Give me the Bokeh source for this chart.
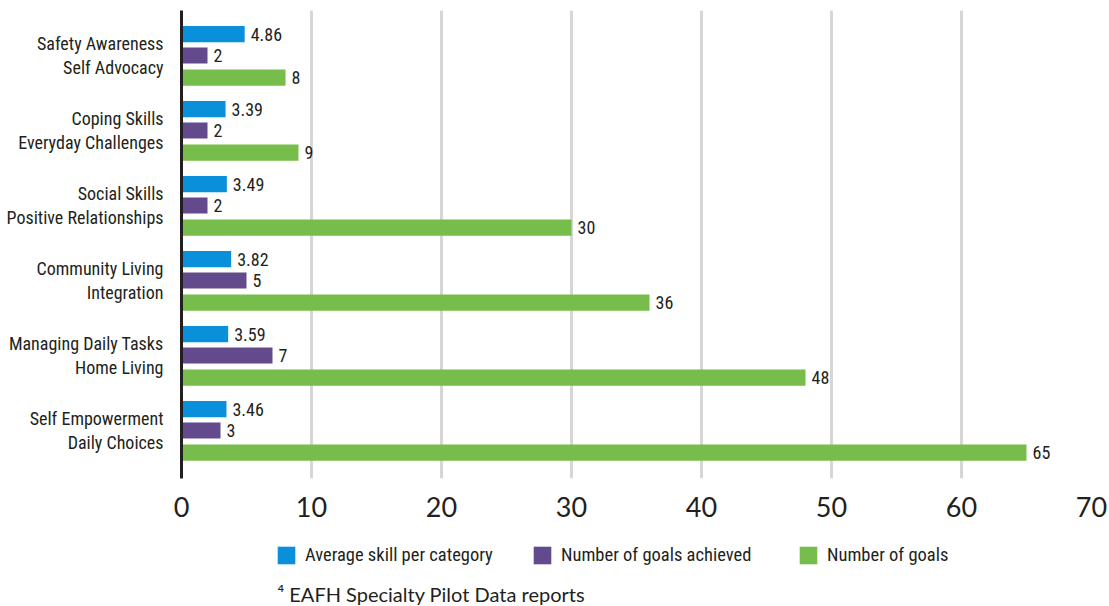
from bokeh.plotting import figure
from bokeh.layouts import column
from bokeh.models import (ColumnDataSource, Range1d, FixedTicker, Legend, LegendItem, Label)
from bokeh.core.properties import value
from bokeh.embed import file_html
from bokeh.resources import INLINE

categories = [
    "Safety Awareness\nSelf Advocacy",
    "Coping Skills\nEveryday Challenges",
    "Social Skills\nPositive Relationships",
    "Community Living\nIntegration",
    "Managing Daily Tasks\nHome Living",
    "Self Empowerment\nDaily Choices",
]
avg_skill = [4.86, 3.39, 3.49, 3.82, 3.59, 3.46]
goals_achieved = [2, 2, 2, 5, 7, 3]
num_goals = [8, 9, 30, 36, 48, 65]
x_ticks = [0, 10, 20, 30, 40, 50, 60, 70]

series = [
    ("Average skill per category", avg_skill, "#0A8FDB", -0.285, lambda v: f"{v:.2f}"),
    ("Number of goals achieved", goals_achieved, "#634A8D", 0.0, lambda v: f"{v}"),
    ("Number of goals", num_goals, "#77BD4B", 0.295, lambda v: f"{v}"),
]

TEXT = "#231F20"
COND = "Roboto Condensed"

p = figure(
    width=1109, height=530,
    x_range=Range1d(0, 70), y_range=Range1d(5.64, -0.6),
    output_backend="svg", toolbar_location=None,
    min_border_left=181, min_border_right=18, min_border_top=10, min_border_bottom=52,
)
p.outline_line_color = None

# vertical rules only
p.ygrid.grid_line_color = None
p.xgrid.grid_line_color = "#D6D6D6"
p.xgrid.grid_line_width = 3
p.xgrid.ticker = FixedTicker(ticks=x_ticks)

p.xaxis.ticker = FixedTicker(ticks=x_ticks)
p.xaxis.axis_line_color = None
p.xaxis.major_tick_line_color = None
p.xaxis.minor_tick_line_color = None
p.xaxis.major_label_text_font = "Lato"
p.xaxis.major_label_text_font_size = "27px"
p.xaxis.major_label_text_color = TEXT
p.xaxis.major_label_standoff = 12

# category names, two lines each
p.yaxis.ticker = FixedTicker(ticks=list(range(len(categories))))
p.yaxis.major_label_overrides = {i: c for i, c in enumerate(categories)}
p.yaxis.axis_line_color = TEXT
p.yaxis.axis_line_width = 3
p.yaxis.major_tick_line_color = None
p.yaxis.minor_tick_line_color = None
p.yaxis.major_label_text_font = COND
p.yaxis.major_label_text_font_size = "18px"
p.yaxis.major_label_text_color = TEXT
p.yaxis.major_label_text_line_height = 1.1
p.yaxis.major_label_standoff = 12

bar_h = 0.215
for name, vals, color, off, fmt in series:
    src = ColumnDataSource(dict(
        y=[i + off for i in range(len(vals))],
        right=vals,
        label=[fmt(v) for v in vals],
    ))
    p.hbar(y="y", left=0, right="right", height=bar_h, source=src,
           fill_color=color, line_color=None)
    p.text(x="right", y="y", text="label", source=src, x_offset=6,
           text_baseline="middle", text_align="left",
           text_font=value(COND), text_font_size="18px", text_color=TEXT)

# strip under the chart holding the key and the source note
foot = figure(
    width=1109, height=76,
    x_range=Range1d(0, 1), y_range=Range1d(0, 1),
    output_backend="svg", toolbar_location=None,
    x_axis_location=None, y_axis_location=None,
    min_border_left=181, min_border_right=18, min_border_top=0, min_border_bottom=0,
)
foot.outline_line_color = None
foot.grid.visible = False

legend_x = [94, 350, 616]
for (name, vals, color, off, fmt), lx in zip(series, legend_x):
    swatch = foot.hbar(y=list(range(len(vals))), right=vals, height=0.5,
                       fill_color=color, line_color=None, visible=False)
    lg = Legend(items=[LegendItem(label=name, renderers=[swatch])],
                location=(lx, 40), orientation="horizontal",
                glyph_width=22, glyph_height=22, label_standoff=8,
                padding=0, margin=0, spacing=0,
                border_line_color=None, background_fill_alpha=0,
                inactive_fill_alpha=0,
                label_text_font=COND, label_text_font_size="18.5px",
                label_text_color=TEXT, label_height=22)
    foot.add_layout(lg, "center")

note = Label(x=96, y=13, x_units="screen", y_units="screen",
             text="\u2074 EAFH Specialty Pilot Data reports",
             text_font="Lato", text_font_size="20px", text_color=TEXT,
             text_baseline="middle", text_align="left")
foot.add_layout(note)

open("out.html", "w").write(file_html(column(p, foot, spacing=0), INLINE))
